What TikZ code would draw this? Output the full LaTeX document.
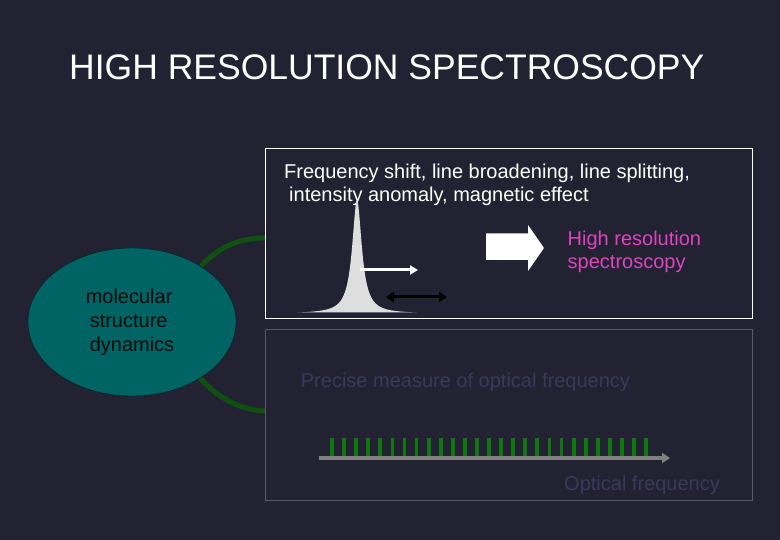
\documentclass[tikz,border=0pt]{standalone}
\usepackage{fontspec}
\setmainfont{Liberation Sans}
\usepackage{xcolor}
\usetikzlibrary{arrows.meta,shapes.geometric}

\definecolor{bgnavy}{RGB}{34,34,51}
\definecolor{molteal}{RGB}{0,100,100}
\definecolor{arcgreen}{RGB}{16,80,16}
\definecolor{combgreen}{RGB}{15,120,15}
\definecolor{hrpink}{RGB}{222,68,190}
\definecolor{dimtext}{RGB}{58,58,88}
\definecolor{boxgrey}{RGB}{90,90,106}

\begin{document}
\begin{tikzpicture}[x=1pt, y=-1pt, >=Stealth,
    txt/.style={inner sep=0pt, font=\fontsize{20}{23}\selectfont},
    panel/.style={draw, line width=1pt, minimum width=487pt, minimum height=170pt, inner sep=0pt},
    link/.style={arcgreen, line width=5pt}]
    \useasboundingbox (0,0) rectangle (780,540);
    \fill[bgnavy] (0,0) rectangle (780,540);

    \node[anchor=base west, inner sep=0pt, white, font=\fontsize{35.5}{40}\selectfont] (title) at (69,79.3) {HIGH RESOLUTION SPECTROSCOPY};

    % the two panels
    \node[panel, white, anchor=north west] (upbox) at (265,148.5) {};
    \node[panel, boxgrey, anchor=north west] (lowbox) at (265,329.5) {};

    \node[txt, white, anchor=north west, align=left] (effects) at (284,164)
        {Frequency shift, line broadening, line splitting,\\\hspace*{5pt}intensity anomaly, magnetic effect};

    % spectral line
    \fill[white!87!black] plot[domain=-60:60, samples=121] ({357+\x}, {313.5-114/(1+(\x/5.8)^2)}) -- cycle;
    \draw[white, line width=3pt, -{Triangle[length=8pt, width=9pt]}] (360,270) -- (418,270);
    \draw[black, line width=3pt, {Triangle[length=8pt, width=10pt]}-{Triangle[length=8pt, width=10pt]}] (386,297) -- (447,297);

    % block arrow
    \fill[white] (486,233.5) -- (528,233.5) -- (528,225) -- (544,248) -- (528,271) -- (528,260) -- (486,260) -- cycle;
    \node[txt, hrpink, anchor=north west, align=left] (hrs) at (567.5,230.5) {High resolution\\spectroscopy};

    % frequency comb
    \node[txt, dimtext, anchor=base west] (precise) at (300.7,388) {Precise measure of optical frequency};
    \foreach \i in {0,...,26}
        \draw[combgreen, line width=3.8pt] ({332+12.08*\i},438) -- ({332+12.08*\i},457);
    \draw[gray, line width=4pt, -{Triangle[length=8pt, width=10pt]}] (319,458) -- (670,458);
    \node[txt, dimtext, anchor=base west] (optfreq) at (564,490) {Optical frequency};

    % molecule
    \draw[link] (201,266) .. controls (220,246) and (240,238) .. ([yshift=-4pt]upbox.west);
    \draw[link] (200,378) .. controls (218,398) and (240,410) .. ([yshift=4pt]lowbox.west);
    \node[ellipse, fill=molteal, draw=black!70!molteal, minimum width=208pt, minimum height=148pt, inner sep=0pt,
          txt, font=\fontsize{20}{24}\selectfont, align=left, text=black!90!molteal] (mol) at (132,322)
        {molecular\\\hspace*{4pt}structure\\\hspace*{4pt}dynamics\hspace*{4pt}};
\end{tikzpicture}
\end{document}
